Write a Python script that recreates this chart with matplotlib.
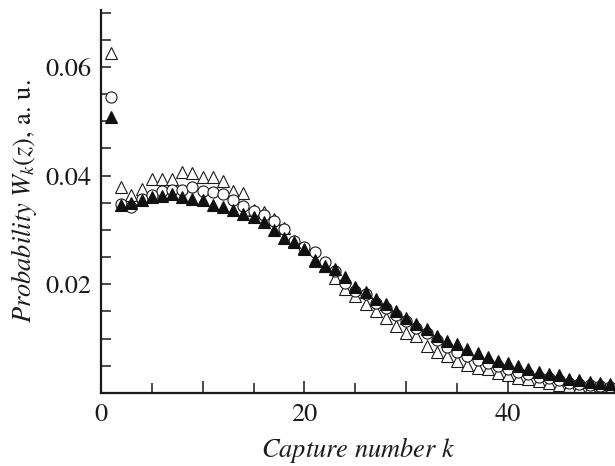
import matplotlib
matplotlib.use("Agg")
import matplotlib.pyplot as plt
from matplotlib.ticker import MultipleLocator

# Times-like look, as in the journal figure
matplotlib.rcParams['font.family'] = 'STIXGeneral'
matplotlib.rcParams['mathtext.fontset'] = 'stix'

# capture number k = 1..50
k = list(range(1, 51))

# open triangles
w_open_tri = [0.0626, 0.0379, 0.0364, 0.0375, 0.0394, 0.0393, 0.0394, 0.0406, 0.0404, 0.0398,
              0.0398, 0.0390, 0.0372, 0.0367, 0.0336, 0.0333, 0.0320, 0.0303, 0.0280, 0.0266,
              0.0243, 0.0234, 0.0211, 0.0192, 0.0178, 0.0163, 0.0151, 0.0138, 0.0123, 0.0111,
              0.0104, 0.0086, 0.0076, 0.0068, 0.0058, 0.0052, 0.0046, 0.0043, 0.0036, 0.0033,
              0.0028, 0.0025, 0.0021, 0.0019, 0.0015, 0.0012, 0.0011, 0.0009, 0.0008, 0.0006]

# open circles
w_circle = [0.0544, 0.0348, 0.0342, 0.0357, 0.0364, 0.0372, 0.0373, 0.0373, 0.0379, 0.0372,
            0.0369, 0.0366, 0.0354, 0.0343, 0.0334, 0.0327, 0.0317, 0.0302, 0.0280, 0.0268,
            0.0259, 0.0240, 0.0224, 0.0203, 0.0188, 0.0181, 0.0166, 0.0157, 0.0144, 0.0132,
            0.0120, 0.0111, 0.0097, 0.0085, 0.0076, 0.0067, 0.0061, 0.0055, 0.0049, 0.0043,
            0.0039, 0.0034, 0.0030, 0.0027, 0.0024, 0.0019, 0.0017, 0.0014, 0.0012, 0.0011]

# filled triangles
w_filled_tri = [0.0507, 0.0346, 0.0350, 0.0354, 0.0360, 0.0362, 0.0366, 0.0361, 0.0357, 0.0354,
                0.0346, 0.0342, 0.0336, 0.0330, 0.0323, 0.0314, 0.0299, 0.0285, 0.0277, 0.0264,
                0.0245, 0.0234, 0.0228, 0.0213, 0.0194, 0.0185, 0.0172, 0.0163, 0.0151, 0.0138,
                0.0126, 0.0117, 0.0104, 0.0096, 0.0089, 0.0081, 0.0073, 0.0066, 0.0058, 0.0054,
                0.0049, 0.0043, 0.0039, 0.0035, 0.0033, 0.0025, 0.0023, 0.0020, 0.0018, 0.0016]

fig = plt.figure(figsize=(6.15, 4.66), dpi=100)
ax = fig.add_axes([0.164, 0.157, 0.836, 0.822])

ax.plot(k, w_open_tri, linestyle='none', marker='^', markersize=9,
        markerfacecolor='white', markeredgecolor='#1a1a1a', markeredgewidth=0.8)
ax.plot(k, w_circle, linestyle='none', marker='o', markersize=8,
        markerfacecolor='white', markeredgecolor='#1a1a1a', markeredgewidth=0.8)
ax.plot(k, w_filled_tri, linestyle='none', marker='^', markersize=9,
        markerfacecolor='#111111', markeredgecolor='#111111', markeredgewidth=0.8)

ax.set_xlim(0, 50.5)
ax.set_ylim(0, 0.0705)

ax.set_xticks([0, 10, 20, 30, 40, 50])
ax.set_xticklabels(['0', '', '20', '', '40', ''])
ax.xaxis.set_minor_locator(MultipleLocator(5))
ax.set_yticks([0.02, 0.04, 0.06])
ax.set_yticklabels(['0.02', '0.04', '0.06'])
ax.yaxis.set_minor_locator(MultipleLocator(0.005))

for side in ['top', 'right']:
    ax.spines[side].set_visible(False)
for side in ['left', 'bottom']:
    ax.spines[side].set_linewidth(1.6)
    ax.spines[side].set_color('#1a1a1a')

ax.tick_params(which='major', direction='in', length=9, width=1.1, labelsize=19,
               colors='#1a1a1a', pad=7)
ax.tick_params(which='minor', direction='in', length=7, width=1.1, colors='#1a1a1a')
ax.tick_params(axis='y', which='major', length=7)

ax.set_xlabel('Capture number $k$', fontsize=19, style='italic', color='#1a1a1a', labelpad=6)
ax.set_ylabel(r'$Probability\ W_k(z)$, a. u.', fontsize=19, color='#1a1a1a', labelpad=4)

fig.savefig('out.png', dpi=100)
